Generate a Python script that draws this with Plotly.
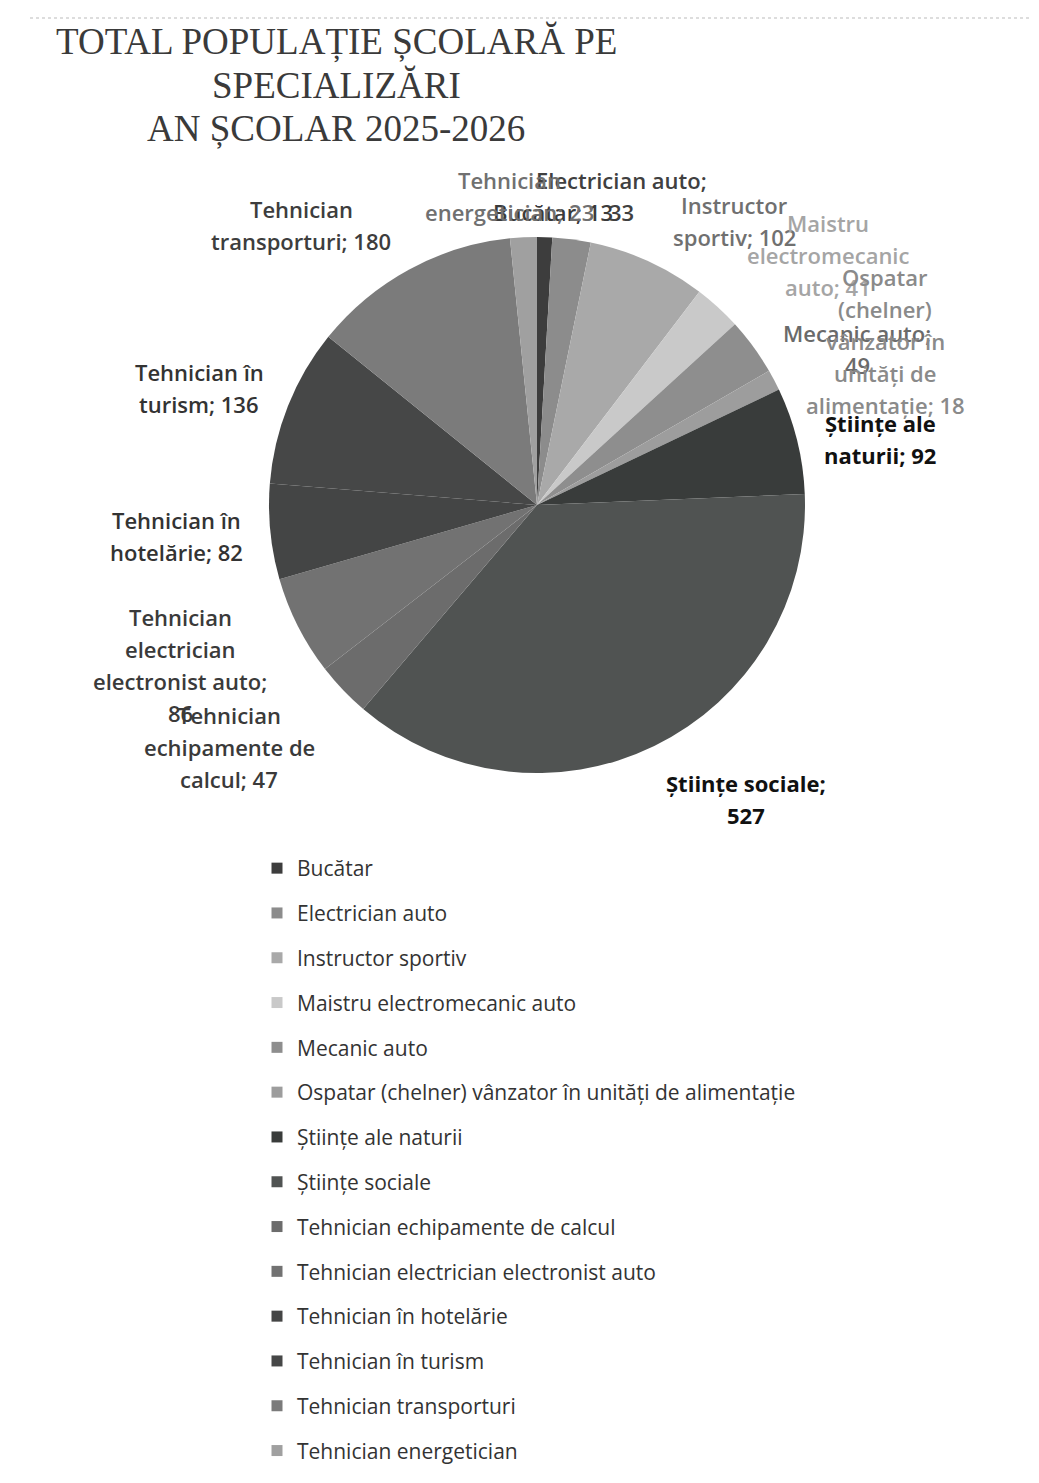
import textwrap
import plotly.graph_objects as go

# date
specializari = [
    "Bucătar", "Electrician auto", "Instructor sportiv", "Maistru electromecanic auto",
    "Mecanic auto", "Ospatar (chelner) vânzator în unități de alimentație",
    "Științe ale naturii", "Științe sociale", "Tehnician echipamente de calcul",
    "Tehnician electrician electronist auto", "Tehnician în hotelărie",
    "Tehnician în turism", "Tehnician transporturi", "Tehnician energetician",
]
elevi = [13, 33, 102, 41, 49, 18, 92, 527, 47, 86, 82, 136, 180, 23]

titlu = ["TOTAL POPULAȚIE ȘCOLARĂ PE", "SPECIALIZĂRI", "AN ȘCOLAR 2025-2026"]

# stil
culori = ["#3d3d3d", "#8c8c8c", "#a9a9a9", "#c9c9c9", "#8e8e8e", "#9d9d9d",
          "#393c3b", "#505352", "#6c6c6c", "#727272", "#444545", "#464747",
          "#7b7b7b", "#a0a0a0"]
culori_text = ["#3a3a3a", "#404040", "#707070", "#a5a5a5", "#6a6a6a", "#8a8a8a",
               "#111111", "#111111", "#3a3a3a", "#3a3a3a", "#333333", "#333333",
               "#3d3d3d", "#707070"]
# centrul etichetei (px in fereastra) si latimea de rupere a randurilor
poz_etichete = [(553, 212), (621, 196), (734, 221), (828, 255), (857, 349),
                (885, 341), (880, 439), (746, 799), (229, 747), (180, 665),
                (176, 536), (199, 388), (301, 225), (509, 196)]
latimi = [20, 17, 12, 14, 13, 16, 11, 16, 14, 17, 13, 12, 17, 16]

# pagina are margine de 8px in body
M = 8
W, H = 1039 - 2 * M, 1483 - 2 * M
LINE = 32


def px(x):
    return (x - M) / W


def py(y):
    return 1 - (y - M) / H


fig = go.Figure()
fig.add_trace(go.Pie(
    labels=specializari, values=elevi, sort=False, direction="clockwise",
    rotation=0, textinfo="none", showlegend=False,
    marker=dict(colors=culori, line=dict(width=0)),
    domain=dict(x=[px(269), px(805)], y=[py(773), py(237)]),
))

# legenda: cate o intrare pe grup, pentru spatiere
for nume, c in zip(specializari, culori):
    fig.add_trace(go.Scatter(
        x=[None], y=[None], mode="markers", name=nume, legendgroup=nume,
        marker=dict(symbol="square", size=11, color=c),
    ))

annots = []
for i, ln in enumerate(titlu):
    annots.append(dict(
        x=px(336), y=py(42 + i * 43), xref="paper", yref="paper", text=ln,
        showarrow=False, xanchor="center", yanchor="middle",
        font=dict(family="Liberation Serif", size=37, color="#3a3a3a"),
    ))

for nume, v, (cx, cy), w, col in zip(specializari, elevi, poz_etichete, latimi, culori_text):
    linii = textwrap.wrap(f"{nume}; {v}", width=w)
    y0 = cy - (len(linii) - 1) * LINE / 2
    bold = col == "#111111"
    for i, ln in enumerate(linii):
        annots.append(dict(
            x=px(cx), y=py(y0 + i * LINE), xref="paper", yref="paper",
            text=ln, showarrow=False, xanchor="center", yanchor="middle",
            font=dict(family="Open Sans", size=22, color=col,
                      weight=700 if bold else 600),
        ))

fig.update_layout(
    width=W, height=H, margin=dict(l=0, r=0, t=0, b=0),
    paper_bgcolor="white", plot_bgcolor="white",
    xaxis=dict(visible=False), yaxis=dict(visible=False),
    annotations=annots,
    legend=dict(x=px(257), y=py(848), xanchor="left", yanchor="top",
                traceorder="grouped", tracegroupgap=14.5, itemwidth=30,
                font=dict(family="Open Sans", size=21, color="#333333"),
                bgcolor="rgba(0,0,0,0)"),
    shapes=[dict(type="line", xref="paper", yref="paper", x0=px(30), x1=1,
                 y0=py(18), y1=py(18),
                 line=dict(color="#bbbbbb", width=1, dash="dot"))],
)

fig.write_html("out.html")
